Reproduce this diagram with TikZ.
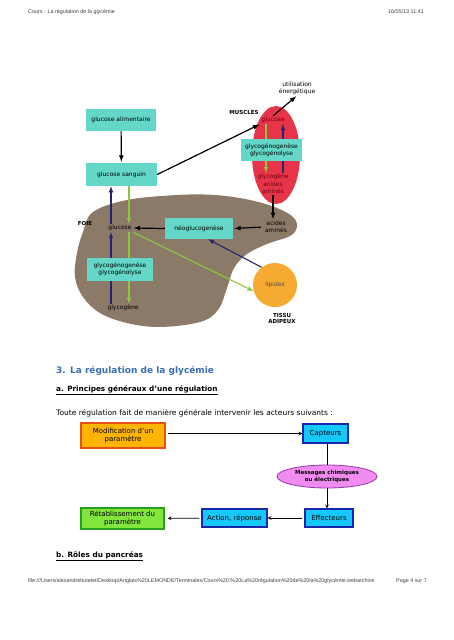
\documentclass[tikz,border=0pt]{standalone}
\usepackage{fontspec}
\setmainfont{DejaVu Sans}
\newfontfamily\pagefont{Liberation Sans}
\usetikzlibrary{shapes.geometric}
\definecolor{boxteal}{RGB}{100,215,200}
\definecolor{liver}{RGB}{140,122,105}
\definecolor{muscle}{RGB}{232,52,72}
\definecolor{muscletext}{RGB}{110,0,20}
\definecolor{lipo}{RGB}{247,170,50}
\definecolor{arrgreen}{RGB}{140,200,60}
\definecolor{arrblue}{RGB}{40,35,110}
\definecolor{titleblue}{RGB}{60,110,180}
\definecolor{modiffill}{RGB}{255,180,0}
\definecolor{modifdraw}{RGB}{230,80,20}
\definecolor{captfill}{RGB}{20,200,250}
\definecolor{captdraw}{RGB}{25,40,170}
\definecolor{messfill}{RGB}{240,140,240}
\definecolor{messdraw}{RGB}{150,60,170}
\definecolor{retafill}{RGB}{130,230,60}
\definecolor{retadraw}{RGB}{40,160,30}
\pgfdeclarelayer{bg}
\pgfdeclarelayer{arr}
\pgfsetlayers{bg,arr,main}
\begin{document}
\begin{tikzpicture}[x=1pt,y=-1pt,
  tbox/.style={fill=boxteal,inner sep=0,align=center,font=\fontsize{6}{7}\selectfont},
  tlbl/.style={inner sep=1pt,align=center,font=\fontsize{6}{7}\selectfont},
  tbold/.style={inner sep=1pt,align=center,font=\bfseries\fontsize{5.5}{6.5}\selectfont},
  blk/.style={-latex,line width=1.2pt,shorten >=1pt},
  grn/.style={-latex,draw=arrgreen,line width=1.1pt},
  blu/.style={-latex,draw=arrblue,line width=1.1pt},
  rbox/.style={draw,line width=1.3pt,inner sep=0,align=center,font=\fontsize{7}{8.2}\selectfont},
  rarr/.style={-stealth,line width=0.7pt},
  pagetext/.style={inner sep=0,text=black!75,font=\pagefont\fontsize{5.4}{6.4}\selectfont}]
\useasboundingbox(0,0)rectangle(453,640);
\node[pagetext,anchor=base west](head)at(28,13){Cours : La régulation de la glycémie};
\node[pagetext,anchor=base east](date)at(424,13){16/05/13 11:41};
% organes
\begin{pgfonlayer}{bg}
\fill[white](0,0)rectangle(453,640);
\fill[liver]plot[smooth cycle,tension=0.6]coordinates{(93,212)(127,200)(177,195)(215,195)(250,200)(277,208)(293,217)(297,227)(290,236)(267,244)(247,254)(234,268)(227,288)(218,310)(200,322)(160,327)(127,323)(100,313)(83,297)(75,277)(77,253)(83,232)};
\fill[muscle](276,155)ellipse[x radius=24,y radius=49];
\end{pgfonlayer}
\node[tbox,minimum width=70pt,minimum height=22pt](alim)at(121,120){glucose alimentaire};
\node[tbox,minimum width=71pt,minimum height=23pt](sang)at(121.5,174.5){glucose sanguin};
\node[tlbl](util)at(297,88){utilisation\\énergétique};
\node[tbold](musc)at(244,112){MUSCLES};
\node[tlbl,text=muscletext](mglu)at(273,120){glucose};
\node[tbox,minimum width=61pt,minimum height=22pt](mbox)at(271.5,150){glycogénogenèse\\glycogénolyse};
\node[tlbl,text=muscletext,font=\fontsize{6}{7.5}\selectfont](mgly)at(273,184){glycogène\\acides\\aminés};
\node[tbold](foie)at(85,223){FOIE};
\node[tlbl](lglu)at(120,228){glucose};
\node[tbox,minimum width=68pt,minimum height=21pt](neo)at(199,228.5){néoglucogenèse};
\node[tlbl](acam)at(276,227){acides\\aminés};
\node[tbox,minimum width=66pt,minimum height=23pt](lbox)at(120,269.5){glycogénogenèse\\glycogénolyse};
\node[tlbl](lgly)at(123,308){glycogène};
\node[circle,fill=lipo,minimum size=44pt,inner sep=0,text=black!70,font=\fontsize{6}{7}\selectfont](lip)at(275,285){lipides};
\node[tbold](tissu)at(282,318.5){TISSU\\ADIPEUX};
\begin{pgfonlayer}{arr}
\draw[blk](alim)--(sang);
\draw[blk](sang.east)--(mglu.south west);
\draw[blk](mglu.north)--(util.south);
\draw[grn]([xshift=-7pt]mglu.south)--([xshift=-7pt]mgly.north);
\draw[blu]([xshift=10pt]mgly.north)--([xshift=10pt]mglu.south);
\draw[blk](mgly.south)--(mgly.south|-acam.north);
\draw[blk,shorten <=3pt](acam.west)--(neo.east);
\draw[blk](neo.west)--(lglu.east);
\draw[blu]([xshift=-9pt]lglu.north)--([xshift=-10.5pt]sang.south);
\draw[grn]([xshift=7.5pt]sang.south)--([xshift=9pt]lglu.north);
\draw[blu]([xshift=-12pt]lgly.north)--([xshift=-9pt]lglu.south);
\draw[grn]([xshift=9pt]lglu.south)--([xshift=6pt]lgly.north);
\draw[grn](lglu.south east)--(lip.196);
\draw[blu](lip.127)--([xshift=9pt]neo.south);
\end{pgfonlayer}
% texte
\node[anchor=base west,inner sep=0,text=titleblue,font=\bfseries\fontsize{9}{11}\selectfont](titre)at(56,373.5){3. La régulation de la glycémie};
\node[anchor=base west,inner sep=0,font=\bfseries\fontsize{7.3}{9}\selectfont](sousa)at(56,391){\underline{a. Principes généraux d'une régulation}};
\node[anchor=base west,inner sep=0,font=\fontsize{7.5}{9}\selectfont](phrase)at(56,415.5){Toute régulation fait de manière générale intervenir les acteurs suivants :};
% schema
\node[rbox,fill=modiffill,draw=modifdraw,minimum width=84pt,minimum height=25pt](modif)at(123,435.5){Modification d'un\\paramètre};
\node[rbox,fill=captfill,draw=captdraw,minimum width=45pt,minimum height=19pt](capt)at(325.5,433.5){Capteurs};
\node[ellipse,fill=messfill,draw=messdraw,line width=0.8pt,inner sep=0,minimum width=100pt,minimum height=23pt,align=center,font=\bfseries\fontsize{5.5}{6.5}\selectfont](mess)at(327,476.5){Messages chimiques\\ou électriques};
\node[rbox,fill=captfill,draw=captdraw,minimum width=48pt,minimum height=18pt](effe)at(329,518){Effecteurs};
\node[rbox,fill=captfill,draw=captdraw,minimum width=65pt,minimum height=18pt](acti)at(234.5,518){Action, réponse};
\node[rbox,fill=retafill,draw=retadraw,minimum width=83pt,minimum height=21pt](reta)at(122.5,518.5){Rétablissement du\\paramètre};
\draw[rarr,shorten <=2pt](modif.east|-capt.west)--(capt.west);
\draw[line width=0.7pt](capt.south-|mess.north)--(mess.north);
\draw[rarr](mess)--(mess.south|-effe.north);
\draw[rarr,shorten <=2pt](effe)--(acti);
\draw[rarr,shorten <=2pt,shorten >=3pt](acti)--(reta);
\node[anchor=base west,inner sep=0,font=\bfseries\fontsize{7.3}{9}\selectfont](sousb)at(56,557){\underline{b. Rôles du pancréas}};
\node[pagetext,anchor=base west](url)at(28,582){file:///Users/alexandrebutelet/Desktop/Anglais\%20LEMONDE/Terminales/Cours\%20:\%20La\%20régulation\%20de\%20la\%20glycémie.webarchive};
\node[pagetext,anchor=base east](page)at(427,582){Page 4 sur 7};
\end{tikzpicture}
\end{document}
